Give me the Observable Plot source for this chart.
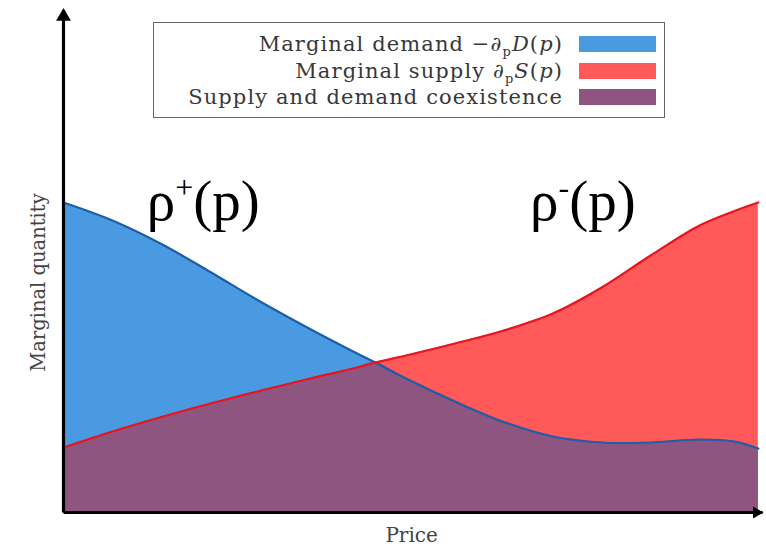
<!DOCTYPE html>
<html>
<head>
<meta charset="utf-8">
<script src="https://cdn.jsdelivr.net/npm/d3@7"></script>
<script src="https://cdn.jsdelivr.net/npm/@observablehq/plot@0.6"></script>
<style>
  html, body { margin: 0; padding: 0; background: #fff; }
  #wrap { position: relative; width: 766px; height: 547px; overflow: hidden; }
  #legend {
    position: absolute; left: 153px; top: 22px; width: 510px; height: 94px;
    border: 1.5px solid #666; background: rgba(255,255,255,0.92);
    font-family: "DejaVu Serif", "Liberation Serif", serif; font-size: 21px; color: #383838;
    letter-spacing: 1.1px;
  }
  .row { position: absolute; left: 0; width: 100%; height: 26px; }
  .row .lab { position: absolute; right: 101px; top: 0; white-space: nowrap; line-height: 26px; }
  .row .sw { position: absolute; left: 425px; top: 5px; width: 77px; height: 16px; }
</style>
</head>
<body>
<div id="wrap"></div>
<script>
// ---- data ----
const price    = [0, 0.7, 1.4, 2.1, 2.8, 3.5, 4.2, 4.46, 4.9, 5.6, 6.3, 7.0, 7.7, 8.4, 9.1, 9.6, 9.94];
const demand   = [6.20, 5.84, 5.37, 4.81, 4.23, 3.69, 3.18, 3.00, 2.68, 2.22, 1.81, 1.52, 1.40, 1.40, 1.46, 1.42, 1.28];
const supply   = [1.30, 1.62, 1.91, 2.18, 2.43, 2.67, 2.90, 3.00, 3.14, 3.38, 3.64, 3.98, 4.50, 5.14, 5.74, 6.03, 6.20];
const legendLabels = ["Marginal demand \u2212\u2202<sub style='font-size:13px'>p</sub><i>D</i>(<i>p</i>)",
                      "Marginal supply \u2202<sub style='font-size:13px'>p</sub><i>S</i>(<i>p</i>)",
                      "Supply and demand coexistence"];
const seriesColors = ["#4a9ae2", "#ff5959", "#8d5580"];
const curveBase = ["\u03C1", "\u03C1"];
const curveSup = ["+", "-"];
const curveArg = ["(p)", "(p)"];
const axisLabels = ["Price", "Marginal quantity"];
const xDomain = [0, 10];
const yDomain = [0, 10.04];

const rows = price.map((p, i) => ({p, d: demand[i], s: supply[i], m: Math.min(demand[i], supply[i])}));
const labels = curveBase.map((b, i) => ({b, s: curveSup[i], a: curveArg[i]}));
const serif = "Liberation Serif, Times New Roman, serif";
const lserif = "DejaVu Serif, Liberation Serif, serif";

const chart = Plot.plot({
  width: 766, height: 547,
  marginLeft: 63, marginRight: 4, marginTop: 10, marginBottom: 35,
  x: {domain: xDomain, axis: null},
  y: {domain: yDomain, axis: null},
  style: {background: "white"},
  marks: [
    Plot.areaY(rows, {x: "p", y: "d", fill: seriesColors[0], curve: "catmull-rom"}),
    Plot.areaY(rows, {x: "p", y: "s", fill: seriesColors[1], curve: "catmull-rom"}),
    Plot.areaY(rows, {x: "p", y: "m", fill: seriesColors[2], curve: "catmull-rom"}),
    Plot.lineY(rows, {x: "p", y: "d", stroke: "#1c5ea8", strokeWidth: 2.2, curve: "catmull-rom"}),
    Plot.lineY(rows, {x: "p", y: "s", stroke: "#e8141e", strokeWidth: 2.2, curve: "catmull-rom"}),
    // axes
    Plot.link([0], {x1: xDomain[0], y1: yDomain[0], x2: xDomain[0], y2: yDomain[1], stroke: "black", strokeWidth: 3.2}),
    Plot.link([0], {x1: xDomain[0], y1: yDomain[0], x2: xDomain[1], y2: yDomain[0], stroke: "black", strokeWidth: 3.2}),
    Plot.dot([0], {x: xDomain[0], y: yDomain[1], symbol: "triangle", r: 5.5, fill: "black", dy: 6}),
    Plot.dot([0], {x: xDomain[1], y: yDomain[0], symbol: "triangle", r: 4.5, fill: "black", rotate: 90, dx: -6}),
    // curve labels (superscript applied below)
    Plot.text(labels, {x: [2.0, 7.43], y: [6.22, 6.22], text: d => d.b + d.s + d.a, fontSize: 57, fill: "black", fontFamily: serif, className: "rho"}),
    Plot.text([axisLabels[0]], {x: 4.98, y: -0.46, text: d => d, fontSize: 20, fill: "#444", fontFamily: lserif}),
    Plot.text([axisLabels[1]], {x: -0.36, y: 4.6, text: d => d, rotate: -90, fontSize: 19.5, fill: "#444", fontFamily: lserif})
  ]
});

// turn the middle character of each curve label into a real superscript
d3.select(chart).selectAll("g.rho text").each(function(_, i) {
  const t = d3.select(this);
  const lab = labels[i];
  t.text(null);
  t.append("tspan").text(lab.b);
  t.append("tspan").attr("font-size", 32).attr("dy", -22).text(lab.s);
  t.append("tspan").attr("dy", 22).text(lab.a);
});

const wrap = document.getElementById("wrap");
wrap.appendChild(chart);

const legend = document.createElement("div");
legend.id = "legend";
legendLabels.forEach((lab, i) => {
  const r = document.createElement("div");
  r.className = "row";
  r.style.top = (8 + i * 26.5) + "px";
  r.innerHTML = `<span class="lab">${lab}</span><span class="sw" style="background:${seriesColors[i]}"></span>`;
  legend.appendChild(r);
});
wrap.appendChild(legend);
</script>
</body>
</html>
